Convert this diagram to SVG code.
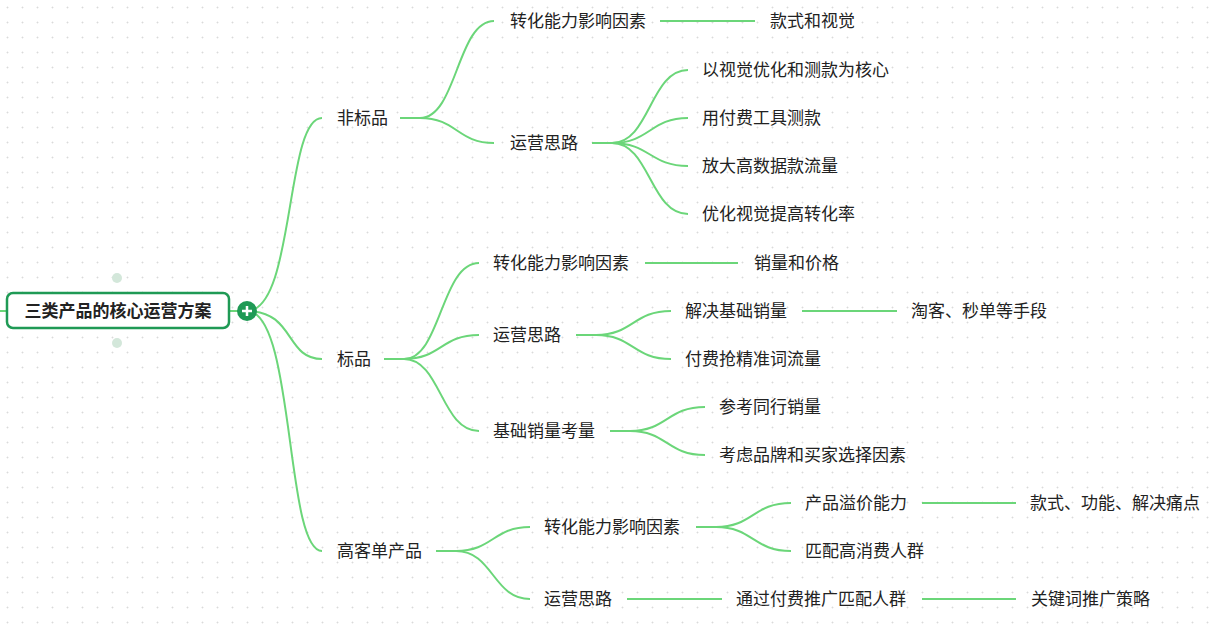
<svg xmlns="http://www.w3.org/2000/svg" width="1221" height="627" viewBox="0 0 1221 627">
<defs>
<pattern id="grid" width="15" height="15" patternUnits="userSpaceOnUse">
<path d="M7.5 6.5v2M6.5 7.5h2" stroke="#d8d8d8" stroke-width="0.8"/>
</pattern>
<style>
text{font-family:"Noto Sans CJK SC","Noto Sans",sans-serif;font-size:17px;fill:#222}
.c path{fill:none;stroke:#6bd679;stroke-width:2}
</style>
</defs>
<rect width="1221" height="627" fill="#fff"/>
<rect width="1221" height="627" fill="url(#grid)"/>
<g class="c" id="connectors">
<path d="M0 311H7M229 311H247"/>
<path d="M247 311C295 311 285 118 322 118"/>
<path d="M247 311C295 311 285 359 322 359"/>
<path d="M247 311C295 311 285 551 322 551"/>
<path d="M400 118H420C457 118 457 21 494 21"/>
<path d="M420 118C457 118 457 143 494 143"/>
<path d="M660 21H755"/>
<path d="M592 143H612C650 143 650 70 688 70"/>
<path d="M612 143C650 143 650 118 688 118"/>
<path d="M612 143C650 143 650 166 688 166"/>
<path d="M612 143C650 143 650 214 688 214"/>
<path d="M384 359H404C441 359 441 263 479 263"/>
<path d="M404 359C441 359 441 335 479 335"/>
<path d="M404 359C441 359 441 431 479 431"/>
<path d="M645 263H738"/>
<path d="M576 335H596C633 335 633 311 671 311"/>
<path d="M596 335C633 335 633 359 671 359"/>
<path d="M802 311H897"/>
<path d="M610 431H630C667 431 667 407 705 407"/>
<path d="M630 431C667 431 667 455 705 455"/>
<path d="M436 551H456C493 551 493 527 530 527"/>
<path d="M456 551C493 551 493 599 530 599"/>
<path d="M696 527H716C753 527 753 503 791 503"/>
<path d="M716 527C753 527 753 551 791 551"/>
<path d="M922 503H1016"/>
<path d="M627 599H722"/>
<path d="M922 599H1016"/>
</g>
<g id="root">
<circle cx="117" cy="278" r="5" fill="#d3e7da"/>
<circle cx="117" cy="343" r="5" fill="#d3e7da"/>
<rect x="7" y="293" width="222" height="35" rx="6" fill="#fff" stroke="#1f9a55" stroke-width="2.5"/>
<text x="118" y="317" text-anchor="middle" style="font-weight:bold;font-size:17px">三类产品的核心运营方案</text>
<circle cx="247" cy="311" r="10" fill="#1f9a55"/>
<path d="M242 311h10M247 306v10" stroke="#fff" stroke-width="2.5"/>
</g>
<g id="n1"><text x="337" y="124">非标品</text></g>
<g id="n1a"><text x="510" y="27">转化能力影响因素</text></g>
<g id="n1a1"><text x="770" y="27">款式和视觉</text></g>
<g id="n1b"><text x="510" y="149">运营思路</text></g>
<g id="n1b1"><text x="702" y="76">以视觉优化和测款为核心</text></g>
<g id="n1b2"><text x="702" y="124">用付费工具测款</text></g>
<g id="n1b3"><text x="702" y="172">放大高数据款流量</text></g>
<g id="n1b4"><text x="702" y="220">优化视觉提高转化率</text></g>
<g id="n2"><text x="337" y="365">标品</text></g>
<g id="n2a"><text x="493" y="269">转化能力影响因素</text></g>
<g id="n2a1"><text x="754" y="269">销量和价格</text></g>
<g id="n2b"><text x="493" y="341">运营思路</text></g>
<g id="n2b1"><text x="685" y="317">解决基础销量</text></g>
<g id="n2b1a"><text x="911" y="317">淘客、秒单等手段</text></g>
<g id="n2b2"><text x="685" y="365">付费抢精准词流量</text></g>
<g id="n2c"><text x="493" y="437">基础销量考量</text></g>
<g id="n2c1"><text x="719" y="413">参考同行销量</text></g>
<g id="n2c2"><text x="719" y="461">考虑品牌和买家选择因素</text></g>
<g id="n3"><text x="337" y="557">高客单产品</text></g>
<g id="n3a"><text x="544" y="533">转化能力影响因素</text></g>
<g id="n3a1"><text x="805" y="509">产品溢价能力</text></g>
<g id="n3a1a"><text x="1030" y="509">款式、功能、解决痛点</text></g>
<g id="n3a2"><text x="805" y="557">匹配高消费人群</text></g>
<g id="n3b"><text x="544" y="605">运营思路</text></g>
<g id="n3b1"><text x="736" y="605">通过付费推广匹配人群</text></g>
<g id="n3b1a"><text x="1031" y="605">关键词推广策略</text></g>
</svg>
